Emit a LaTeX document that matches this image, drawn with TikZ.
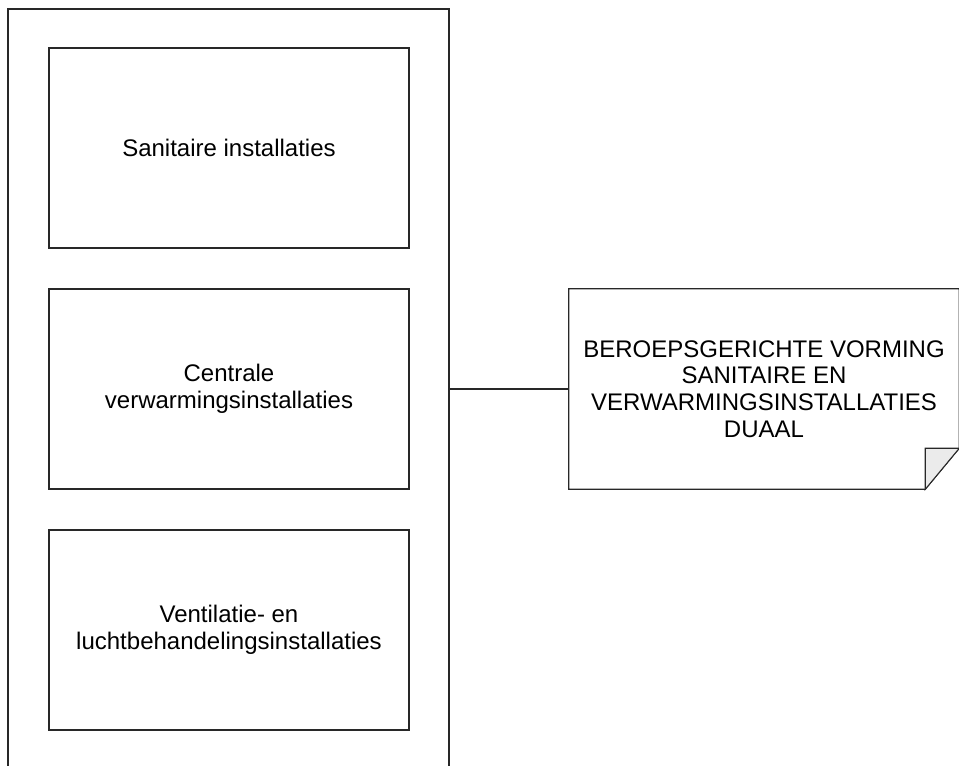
\documentclass[tikz,border=0pt]{standalone}
\usepackage{fontspec}
\setmainfont{Liberation Sans}
\usepackage{xcolor}
\usetikzlibrary{positioning,calc}
\definecolor{foldgray}{RGB}{235,235,235}
\definecolor{edgegray}{RGB}{40,40,40}

\begin{document}
\begin{tikzpicture}[x=0.75pt,y=-0.75pt,
    font=\fontsize{18}{20}\selectfont,
    frame/.style={draw=edgegray, line width=0.8pt},
    course/.style={frame, minimum width=270pt, minimum height=150pt, align=center, inner sep=2pt}]
    \useasboundingbox (0,0) rectangle (959,765);

    % Outer group
    \node[frame, minimum width=330.75pt, minimum height=570pt] (group) at (228.5,389) {};

    % Courses
    \node[course] (sanitair) at (229,148) {Sanitaire installaties};
    \node[course] (cv) at (229,389) {Centrale\\verwarmingsinstallaties};
    \node[course] (ventilatie) at (229,630) {Ventilatie- en\\luchtbehandelingsinstallaties};

    % Note
    \node[minimum width=292.5pt, minimum height=150pt, align=center, inner sep=2pt] (note) at (764,389)
        {BEROEPSGERICHTE VORMING\\SANITAIRE EN\\VERWARMINGSINSTALLATIES\\DUAAL};
    \draw[frame] (note.north west) -- (note.north east) -- ([yshift=30.75pt]note.south east)
        -- ([xshift=-25.5pt]note.south east) -- (note.south west) -- cycle;
    \filldraw[frame, fill=foldgray] ([xshift=-25.5pt]note.south east)
        -- ([xshift=-25.5pt,yshift=30.75pt]note.south east) -- ([yshift=30.75pt]note.south east) -- cycle;

    % Link
    \draw[frame] (group.east) -- (note.west);
\end{tikzpicture}
\end{document}
